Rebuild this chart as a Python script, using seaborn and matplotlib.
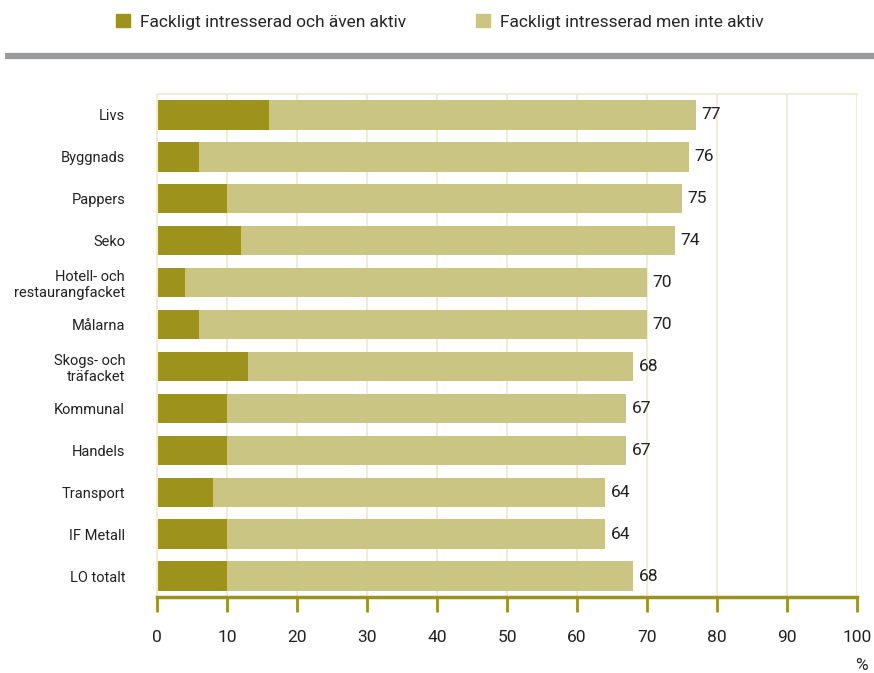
import numpy as np
import pandas as pd
import seaborn as sns
import matplotlib.pyplot as plt
from matplotlib.lines import Line2D
from matplotlib.patches import Patch

# data
unions = ['Livs', 'Byggnads', 'Pappers', 'Seko', 'Hotell- och\nrestaurangfacket', 'Målarna',
          'Skogs- och\nträfacket', 'Kommunal', 'Handels', 'Transport', 'IF Metall', 'LO totalt']
active = [16, 6, 10, 12, 4, 6, 13, 10, 10, 8, 10, 10]
total = [77, 76, 75, 74, 70, 70, 68, 67, 67, 64, 64, 68]

dark = '#9d921b'
light = '#cbc584'
grid_col = '#efecd9'
txt = '#222222'

sns.set_theme(style='white')
plt.rcParams['font.family'] = ['Roboto', 'DejaVu Sans']

df = pd.DataFrame({'union': unions, 'active': active, 'total': total})

fig = plt.figure(figsize=(8.74, 6.73), dpi=100)
ax = fig.add_axes([157 / 874, 1 - 597 / 673, 700 / 874, (597 - 94) / 673])

sns.barplot(data=df, y='union', x='total', color=light, saturation=1, width=0.7, ax=ax,
            orient='h', linewidth=0)
sns.barplot(data=df, y='union', x='active', color=dark, saturation=1, width=0.7, ax=ax,
            orient='h', linewidth=0)

ax.bar_label(ax.containers[0], labels=[str(v) for v in total], padding=4, fontsize=12.5, color=txt)

ax.set_xlim(0, 100)
ax.set_ylim(11.5, -0.5)
ax.set_xticks(np.arange(0, 101, 10))
ax.set_xlabel('')
ax.set_ylabel('')
for x in range(10, 101, 10):
    ax.axvline(x, color=grid_col, lw=1.5, zorder=0)

for s in ['top', 'left']:
    ax.spines[s].set_color(grid_col)
    ax.spines[s].set_linewidth(1.5)
ax.spines['right'].set_visible(False)
ax.spines['bottom'].set_color(dark)
ax.spines['bottom'].set_linewidth(2.5)

ax.tick_params(axis='x', bottom=True, direction='out', length=11, width=2, color=dark,
               labelsize=12.5, pad=13, labelcolor=txt)
ax.tick_params(axis='y', left=False, labelsize=10.5, pad=17, labelcolor=txt)
for lab in ax.get_yticklabels():
    lab.set_multialignment('right')

fig.text(861 / 874, 1 - 665 / 673, '%', fontsize=12.5, ha='center', va='center', color=txt)

handles = [Patch(color=dark), Patch(color=light)]
fig.legend(handles, ['Fackligt intresserad och även aktiv', 'Fackligt intresserad men inte aktiv'],
           loc='center', bbox_to_anchor=(440 / 874, 1 - 22 / 673), ncol=2, frameon=False,
           fontsize=12.5, handlelength=0.8, handleheight=0.8, columnspacing=4, handletextpad=0.6)

fig.add_artist(Line2D([5 / 874, 1], [1 - 56 / 673] * 2, transform=fig.transFigure,
                      color='#999a9c', lw=4.5, solid_capstyle='butt'))

fig.savefig('out.png', dpi=100)
